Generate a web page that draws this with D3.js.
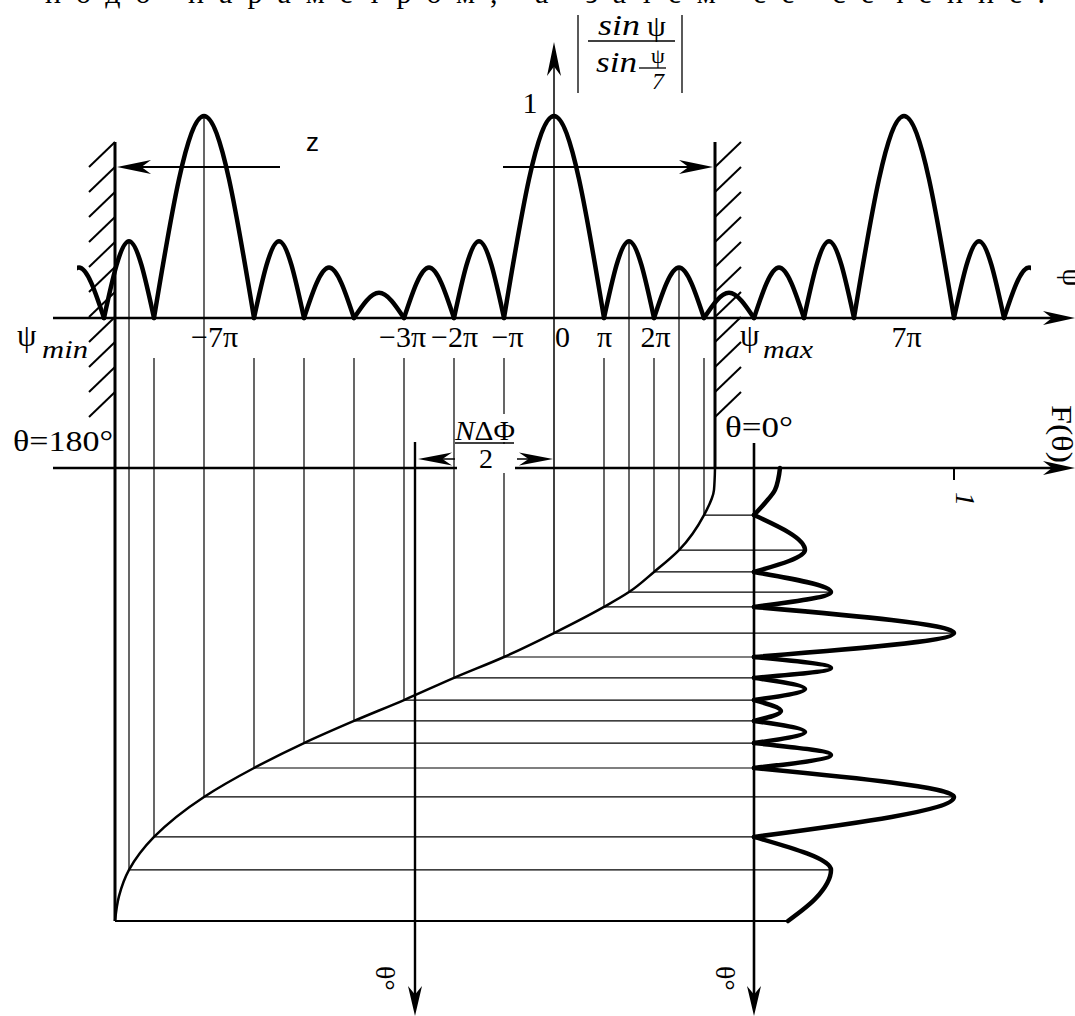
<!DOCTYPE html>
<html><head><meta charset="utf-8">
<script src="https://cdn.jsdelivr.net/npm/d3@7"></script>
<style>
body{margin:0;background:#fff}svg{display:block}
svg text{font-family:"Liberation Serif","DejaVu Serif",serif;}
svg text.sans{font-family:"Liberation Sans","DejaVu Sans",sans-serif;}
</style>
</head><body>
<svg id="c" width="1075" height="1016"></svg>
<script>
// ================= DATA =================
// Array factor |sin ψ / sin(ψ/7)| : key points (ψ in units of π, normalized amplitude)
const lobePsi = [-10,-9.5,-9,-8.5,-8,-7,-6,-5.5,-5,-4.5,-4,-3.5,-3,-2.5,-2,-1.5,-1,0,1,1.5,2,2.5,3,3.5,4,4.5,5,5.5,6,7,8,8.5,9,9.5,10];
const lobeAmp = [0,0.25,0,0.38,0,1,0,0.38,0,0.25,0,0.125,0,0.25,0,0.38,0,1,0,0.38,0,0.25,0,0.125,0,0.25,0,0.38,0,1,0,0.38,0,0.25,0];
const shownPsi = [-9.5, 9.5];          // drawn part of the ψ curve
const visiblePsi = [-8.78, 3.22];      // ψmin … ψmax (visible region walls)

// mapping curve ψ(θ)  (ψ in π, θ in degrees)
const curvePsi   = [3.22, 3.2, 3.0, 2.5, 2.0, 1.5, 1.0, 0, -1, -2, -3, -4, -5, -6, -7, -8, -8.5, -8.7, -8.78];
const curveTheta = [0, 8.7, 18.7, 32.6, 41.3, 49.3, 55.2, 65.6, 75.1, 83.4, 92.2, 100.5, 109.3, 119.2, 130.7, 146.6, 159.7, 170.1, 180];

// resulting pattern F(θ)
const patTheta = [0, 8.7, 13.9, 18.7, 32.6, 41.3, 49.3, 55.2, 65.6, 75.1, 79.5, 83.4, 87.8, 92.2, 96.6, 100.5, 104.9, 109.3, 114.0, 119.2, 130.7, 146.6, 159.7, 170.9, 180];
const patF     = [0.13, 0.105, 0.055, 0, 0.255, 0, 0.385, 0, 1.0, 0, 0.385, 0, 0.255, 0, 0.135, 0, 0.255, 0, 0.385, 0, 1.0, 0, 0.385, 0.31, 0.17];

// projection lines (ψ values, in π)
const connPsi = [3, 2.5, 2, 1.5, 1, 0, -1, -2, -3, -4, -5, -6, -7, -8, -8.5];

// tick labels of the ψ axis
const tickVals   = [-7, -3, -2, -1, 0, 1, 2, 7];
const tickLabels = ["\u22127\u03c0", "\u22123\u03c0", "\u22122\u03c0", "\u2212\u03c0", "0", "\u03c0", "2\u03c0", "7\u03c0"];

// ================= SCALES =================
const xPsi   = d3.scaleLinear().domain([-9, 9]).range([104, 1004]);
const yAmp   = d3.scaleLinear().domain([0, 1]).range([318, 116]);
const yTheta = d3.scaleLinear().domain([0, 180]).range([468, 921]);
const xF     = d3.scaleLinear().domain([0, 1]).range([754, 954]);
const thetaOfPsi = d3.scaleLinear().domain(curvePsi).range(curveTheta);

const svg = d3.select('#c');
const K = '#000';

function line(x1,y1,x2,y2,w){ svg.append('line').attr('x1',x1).attr('y1',y1).attr('x2',x2).attr('y2',y2).attr('stroke',K).attr('stroke-width',w); }
function arrowHead(x,y,ang,L=32,w=7){
  svg.append('path').attr('d',`M0,0 L${-L},${-w} L${-L*0.72},0 L${-L},${w} Z`)
    .attr('transform',`translate(${x},${y}) rotate(${ang})`).attr('fill',K);
}
function txt(x,y,s,o={}){
  const t = svg.append('text').attr('x',x).attr('y',y).text(s)
    .attr('font-size',o.fs||30).attr('fill',K);
  if(o.cls) t.attr('class',o.cls);
  if(o.it) t.attr('font-style','italic');
  if(o.anchor) t.attr('text-anchor',o.anchor);
  if(o.tl) t.attr('textLength',o.tl).attr('lengthAdjust',o.la||'spacingAndGlyphs');
  if(o.rot!==undefined) t.attr('x',0).attr('y',0).attr('transform',`translate(${x},${y}) rotate(${o.rot})`);
  return t;
}

// ---- cropped text line at the very top ----
txt(45, 3, "подо параметром,  а затем её сечение.", {tl:1000, la:'spacing', fs:30});

// ================= PROJECTION LINES =================
const psiPts = lobePsi.map((p,i)=>[p,lobeAmp[i]]);
const patPts = patTheta.map((t,i)=>[t,patF[i]]);
connPsi.forEach(p=>{
  const th = thetaOfPsi(p);
  const yB = yTheta(th);
  const k = psiPts.find(d=>Math.abs(d[0]-p)<1e-6);
  const amp = k ? k[1] : 0;
  const yT = amp>0 ? yAmp(amp) : 358;
  if(p!==0) line(xPsi(p), yT, xPsi(p), yB, 1.2);
  const q = patPts.find(d=>Math.abs(d[0]-th)<0.05);
  const f = q ? q[1] : 0;
  line(xPsi(p), yB, xF(f), yB, 1.2);
});

// ================= AXES =================
line(53, 318, 1060, 318, 2.6); arrowHead(1075, 318, 0);
line(53, 468, 1060, 468, 2.6); arrowHead(1075, 468, 0);
line(xPsi(0), 60, xPsi(0), yTheta(thetaOfPsi(0)), 1.5); arrowHead(xPsi(0), 42, -90, 34, 7);
line(415, 442, 415, 1000, 2.4); arrowHead(415, 1016, 90, 30, 7);
line(xF(0), 443, xF(0), 1000, 2.6); arrowHead(xF(0), 1016, 90, 30, 7);
line(xF(1), 468, xF(1), 480, 2);

// tick labels via d3 axis
const tickDx = {"-7":10,"-3":-2,"-2":0,"-1":3,"0":8,"1":0,"2":1,"7":2};
const ax = svg.append('g').attr('transform','translate(0,318)')
  .call(d3.axisBottom(xPsi).tickValues(tickVals).tickFormat((d,i)=>tickLabels[i]).tickSize(0).tickPadding(0));
ax.select('.domain').remove();
ax.attr('font-family',null);
ax.selectAll('.tick text').attr('y',29).attr('dy',0).attr('dx',d=>tickDx[d])
  .attr('font-size',30).attr('fill',K);

// ================= WALLS (ψmin / ψmax) =================
const xMin = xPsi(visiblePsi[0]), xMax = xPsi(visiblePsi[1]);
line(xMin, 142, xMin, 921, 3);
line(xMax, 142, xMax, 468, 3);
for(let k=0;k<11;k++){
  line(xMin, 142+25*k, xMin-26, 167+25*k, 2);
  line(xMax, 167+25*k, xMax+26, 142+25*k, 2);
}
line(xMin, yTheta(180), xF(patF[patF.length-1]), yTheta(180), 2.2);

// z arrows
line(280, 167, xMin+20, 167, 1.8); arrowHead(xMin+2, 167, 180, 34, 7);
line(503, 167, xMax-20, 167, 1.8); arrowHead(xMax-2, 167, 0, 34, 7);

// ================= CURVES =================
function splitAtZeros(pts){
  const segs=[]; let cur=[pts[0]];
  for(let i=1;i<pts.length;i++){ cur.push(pts[i]); if(pts[i][1]===0 && i<pts.length-1){ segs.push(cur); cur=[pts[i]]; } }
  segs.push(cur); return segs;
}
svg.append('clipPath').attr('id','clipPsi').append('rect')
  .attr('x',xPsi(shownPsi[0])-2).attr('y',0).attr('width',xPsi(shownPsi[1])-xPsi(shownPsi[0])+4).attr('height',400);
const topLine = d3.line().x(d=>xPsi(d[0])).y(d=>yAmp(d[1])).curve(d3.curveMonotoneX);
const gTop = svg.append('g').attr('clip-path','url(#clipPsi)');
splitAtZeros(psiPts).forEach(s=>{
  gTop.append('path').attr('d',topLine(s)).attr('fill','none').attr('stroke',K)
    .attr('stroke-width',4.5).attr('stroke-linejoin','round').attr('stroke-linecap','round');
});

const mapLine = d3.line().x(d=>xPsi(d[0])).y(d=>yTheta(d[1])).curve(d3.curveMonotoneY);
svg.append('path').attr('d',mapLine(curvePsi.map((p,i)=>[p,curveTheta[i]])))
  .attr('fill','none').attr('stroke',K).attr('stroke-width',2.5);

const patLine = d3.line().x(d=>xF(d[1])).y(d=>yTheta(d[0])).curve(d3.curveMonotoneY);
splitAtZeros(patPts).forEach(s=>{
  svg.append('path').attr('d',patLine(s)).attr('fill','none').attr('stroke',K)
    .attr('stroke-width',4.5).attr('stroke-linejoin','round').attr('stroke-linecap','round');
});

// ================= LABELS =================
txt(530, 113, "1", {anchor:'middle'});
line(578, 15, 578, 93, 1.3); line(682, 15, 682, 93, 1.3);
txt(598, 35, "sin", {it:true, tl:42});
txt(647, 36, "\u03c8", {fs:30});
line(588, 41, 675, 41, 1.3);
txt(596, 72, "sin", {it:true, tl:41});
txt(651, 63, "\u03c8", {fs:22});
line(639, 68, 666, 68, 1.3);
txt(652, 89, "7", {fs:24, it:true});
txt(306, 151, "z", {cls:'sans', fs:26});
txt(17, 346, "\u03c8", {fs:31});
txt(42, 358, "min", {it:true, fs:25, tl:46});
txt(740, 346, "\u03c8", {fs:31});
txt(763, 358, "max", {it:true, fs:25, tl:50});
txt(13, 451, "\u03b8=180\u00b0", {tl:100});
txt(725, 437, "\u03b8=0\u00b0", {tl:68});
// N ΔΦ / 2
svg.append('rect').attr('x',457).attr('y',444).attr('width',58).attr('height',29).attr('fill','#fff');
svg.append('rect').attr('x',462).attr('y',414).attr('width',50).attr('height',28).attr('fill','#fff');
const nt = svg.append('text').attr('x',455).attr('y',440).attr('font-size',28).attr('fill',K)
  .attr('textLength',60).attr('lengthAdjust','spacingAndGlyphs');
nt.append('tspan').attr('font-style','italic').text('N');
nt.append('tspan').text('\u0394\u03a6');
line(455, 443, 514, 443, 1.4);
txt(486, 468, "2", {anchor:'middle', fs:28});
line(440, 459, 455, 459, 1.5); arrowHead(418, 459, 180, 34, 6.5);
line(517, 459, 532, 459, 1.5); arrowHead(553, 459, 0, 34, 6.5);
// rotated labels
txt(1063, 268, "\u03c8", {rot:90, fs:30});
txt(1052, 405, "F(\u03b8)", {rot:90, fs:30, tl:58});
txt(956, 492, "1", {rot:90, fs:28, it:true});
txt(376, 966, "\u03b8\u00b0", {rot:90, fs:28});
txt(716, 966, "\u03b8\u00b0", {rot:90, fs:28});
</script>
</body></html>
